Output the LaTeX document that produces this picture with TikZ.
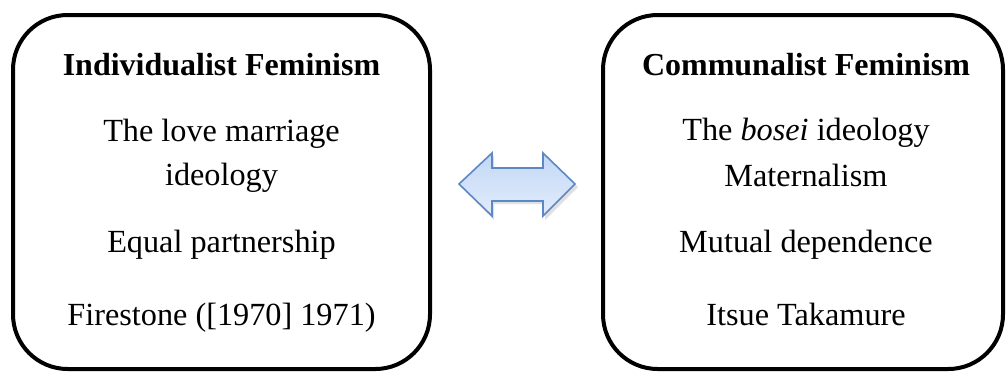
\documentclass[tikz,border=0pt]{standalone}
\usepackage{fontspec}
\setmainfont{Liberation Serif}
\begin{document}
\begin{tikzpicture}[x=0.75pt,y=-0.75pt,
  panel/.style={draw=black,line width=3pt,rounded corners=41pt},
  ttl/.style={anchor=base,font=\fontsize{24}{28}\selectfont\bfseries,inner sep=0pt},
  txt/.style={anchor=base,font=\fontsize{24.2}{28}\selectfont,inner sep=0pt},
  arrowfill/.style={top color=arrowtop,bottom color=arrowbot,draw=arrowedge,line width=1.2pt,line join=miter}
]
\definecolor{arrowtop}{HTML}{C3D8F5}
\definecolor{arrowbot}{HTML}{E1ECFB}
\definecolor{arrowedge}{HTML}{5C88C6}
\useasboundingbox (0,0) rectangle (1006,372);
% panels
\draw[panel] (13,15) rectangle (430,369);
\draw[panel] (603,15) rectangle (1003,369);
% left text
\node[ttl] (lt) at (221.5,75) {Individualist Feminism};
\node[txt] (l1) at (221.5,141) {The love marriage};
\node[txt] (l2) at (221.5,185) {ideology};
\node[txt] (l3) at (221.5,252) {Equal partnership};
\node[txt] (l4) at (221.5,325) {Firestone ([1970] 1971)};
% right text
\node[ttl] (rt) at (806,75) {Communalist Feminism};
\node[txt] (r1) at (806,140) {The \textit{bosei} ideology};
\node[txt] (r2) at (806,186) {Maternalism};
\node[txt] (r3) at (806,252) {Mutual dependence};
\node[txt] (r4) at (806,325) {Itsue Takamure};
% double arrow
\fill[black,opacity=0.12] (461,187) -- (494,156) -- (494,171) -- (545,171) -- (545,156) -- (578,187) -- (545,220) -- (545,204) -- (494,204) -- (494,220) -- cycle;
\shade[arrowfill] (459,184) -- (492,153) -- (492,168) -- (543,168) -- (543,153) -- (575,184) -- (543,216) -- (543,201) -- (492,201) -- (492,216) -- cycle;
\end{tikzpicture}
\end{document}
